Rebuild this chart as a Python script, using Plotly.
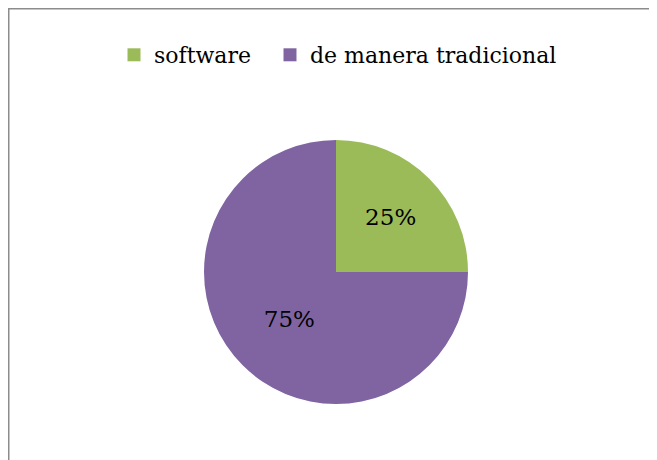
import plotly.graph_objects as go

labels = ["software", "de manera tradicional"]
values = [25, 75]
colors = ["#9BBB59", "#8064A2"]

W, H = 657, 460
# page has an 8px body margin; coordinates below are figure coordinates
cx, cy, r = 328, 264, 132
FONT = "DejaVu Serif, Liberation Serif, serif"

fig = go.Figure()
fig.add_trace(go.Pie(
    labels=labels,
    values=values,
    marker=dict(colors=colors, line=dict(width=0)),
    sort=False,
    direction="clockwise",
    rotation=0,
    textinfo="percent",
    textposition="inside",
    insidetextorientation="horizontal",
    textfont=dict(family=FONT, size=23, color="#000000"),
    domain=dict(x=[(cx - r) / W, (cx + r) / W], y=[1 - (cy + r) / H, 1 - (cy - r) / H]),
    hoverinfo="label+percent",
    showlegend=False,
))

# legend entries (one legend per entry so spacing can match the original)
legend_x = [106, 262]
for i, (lab, col) in enumerate(zip(labels, colors)):
    fig.add_trace(go.Scatter(
        x=[None], y=[None], mode="markers", name=lab,
        marker=dict(symbol="square", size=13, color=col),
        legend="legend" if i == 0 else "legend2",
        showlegend=True, hoverinfo="skip",
    ))

legend_common = dict(
    orientation="h",
    xanchor="left",
    y=1 - 47 / H, yanchor="middle",
    font=dict(family=FONT, size=22, color="#000000"),
    itemsizing="trace",
    itemwidth=30,
    bgcolor="rgba(0,0,0,0)",
)

fig.update_layout(
    width=W, height=H,
    margin=dict(l=0, r=0, t=0, b=0),
    paper_bgcolor="white",
    plot_bgcolor="white",
    showlegend=True,
    xaxis=dict(visible=False),
    yaxis=dict(visible=False),
    legend=dict(x=legend_x[0] / W, **legend_common),
    legend2=dict(x=legend_x[1] / W, **legend_common),
    shapes=[
        dict(type="line", xref="paper", yref="paper",
             x0=0, x1=1.01, y0=1, y1=1,
             line=dict(color="#8C8C8C", width=3)),
        dict(type="line", xref="paper", yref="paper",
             x0=0, x1=0, y0=1, y1=-0.01,
             line=dict(color="#8C8C8C", width=3)),
    ],
)

fig.write_html("out.html")
